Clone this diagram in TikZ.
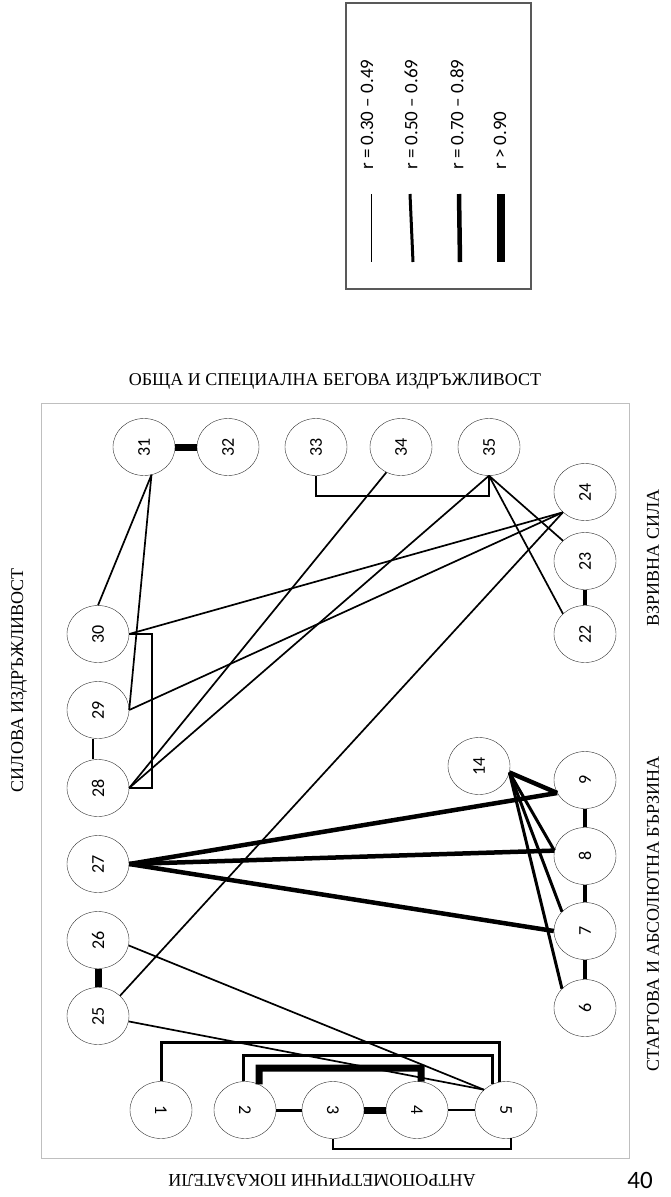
\documentclass[tikz,border=0pt]{standalone}
\usepackage{fontspec}
\setmainfont{Liberation Serif}
\newfontfamily\numfont{Carlito}
\usetikzlibrary{shapes.geometric}
\definecolor{frameGrey}{HTML}{BFBFBF}
\definecolor{legGrey}{HTML}{595959}

\begin{document}
\begin{tikzpicture}[x=1pt, y=-1pt,
      var/.style={draw=black!80, ellipse, fill=white, minimum width=62pt, minimum height=57pt,
        inner sep=0pt, font=\numfont\fontsize{18}{18}\selectfont},
      group/.style={font=\fontsize{18}{20}\selectfont, inner sep=0pt},
      legtext/.style={font=\numfont\fontsize{19}{20}\selectfont, inner sep=0pt, anchor=west, rotate=90},
      weak/.style={line width=1.7pt},
      moderate/.style={line width=3pt},
      strong/.style={line width=4.5pt},
      vstrong/.style={line width=7pt}]
    \useasboundingbox (0,0) rectangle (670,1197);

    % legend
    \draw[legGrey, line width=1.2pt] (346,3) rectangle (531,289);
    \draw[line width=1pt] (371,194) -- (371,262);
    \draw[line width=3pt] (410,194) -- (413,262);
    \draw[line width=4.5pt] (459,194) -- (460,262);
    \draw[line width=8pt] (501,194) -- (501,262);
    \node[legtext] at (367,170) {r = 0.30 – 0.49};
    \node[legtext] at (411,170) {r = 0.50 – 0.69};
    \node[legtext] at (457,170) {r = 0.70 – 0.89};
    \node[legtext] at (500,170) {r > 0.90};

    % frame and group names
    \draw[frameGrey, line width=1pt] (41,403) rectangle (629,1158);
    \node[group] (tEndur) at (335,381) {ОБЩА И СПЕЦИАЛНА БЕГОВА ИЗДРЪЖЛИВОСТ};
    \node[group, rotate=90] (tStrength) at (19,680) {СИЛОВА ИЗДРЪЖЛИВОСТ};
    \node[group, rotate=90] (tPower) at (653,558) {ВЗРИВНА СИЛА};
    \node[group, rotate=90] (tSpeed) at (653,914) {СТАРТОВА И АБСОЛЮТНА БЪРЗИНА};
    \node[group, rotate=180] (tAnthro) at (322,1180) {АНТРОПОМЕТРИЧНИ ПОКАЗАТЕЛИ};
    \node[font=\numfont\fontsize{25}{25}\selectfont, inner sep=0pt] (page) at (640,1180) {40};

    % variables
    \node[var] (n31) at (144,447) {\rotatebox{90}{31}};
    \node[var] (n32) at (228,447) {\rotatebox{90}{32}};
    \node[var] (n33) at (316,447) {\rotatebox{90}{33}};
    \node[var] (n34) at (401,447) {\rotatebox{90}{34}};
    \node[var] (n35) at (489,447) {\rotatebox{90}{35}};
    \node[var] (n24) at (585,492) {\rotatebox{90}{24}};
    \node[var] (n23) at (585,561) {\rotatebox{90}{23}};
    \node[var] (n22) at (585,634) {\rotatebox{90}{22}};
    \node[var] (n30) at (98,634) {\rotatebox{90}{30}};
    \node[var] (n29) at (98,710) {\rotatebox{90}{29}};
    \node[var] (n28) at (98,788) {\rotatebox{90}{28}};
    \node[var] (n27) at (98,864) {\rotatebox{90}{27}};
    \node[var] (n26) at (98,940) {\rotatebox{90}{26}};
    \node[var] (n25) at (98,1016) {\rotatebox{90}{25}};
    \node[var] (n14) at (479,766) {\rotatebox{90}{14}};
    \node[var] (n9) at (585,780) {\rotatebox{90}{9}};
    \node[var] (n8) at (585,856) {\rotatebox{90}{8}};
    \node[var] (n7) at (585,931) {\rotatebox{90}{7}};
    \node[var] (n6) at (585,1008) {\rotatebox{90}{6}};
    \node[var] (n1) at (161,1110) {\rotatebox{-90}{1}};
    \node[var] (n2) at (245,1110) {\rotatebox{-90}{2}};
    \node[var] (n3) at (333,1110) {\rotatebox{-90}{3}};
    \node[var] (n4) at (417,1110) {\rotatebox{-90}{4}};
    \node[var] (n5) at (506,1110) {\rotatebox{-90}{5}};

    % correlations
    \draw[vstrong] (n31) -- (n32);
    \draw[weak] (n31.-75) -- (n30.north);
    \draw[weak] (n31.-75) -- (n29.east);
    \draw[weak] (n30.east) -- (n24.south west);
    \draw[weak] (n29.east) -- (n24.south west);
    \draw[weak] (n28.east) -- (n34.-120);
    \draw[weak] (n28.east) -- (n35.south);
    \draw[weak] (n25.north east) -- (n24.south west);
    \draw[weak] (n33.south) -- ++(0,20) -| (n35.south);
    \draw[weak] (n35.south) -- (n23.north west);
    \draw[weak] (n35.south) -- (n22.north west);
    \draw[strong] (n22) -- (n23);
    \draw[weak] ([xshift=-5pt]n29.south) -- ([xshift=-5pt]n28.north);
    \draw[weak] (n30.east) -- ++(23,0) |- (n28.east);

    \draw[strong] (n27.east) -- (n9.205);
    \draw[strong] (n27.east) -- (n8.170);
    \draw[strong] (n27.east) -- (n7.west);
    \draw[strong] (n14.-12) -- (n9.205);
    \draw[moderate] (n14.-12) -- (n8.170);
    \draw[moderate] (n14.-12) -- (n7.140);
    \draw[moderate] (n14.-12) -- (n6.140);
    \draw[strong] (n6) -- (n7);
    \draw[strong] (n7) -- (n8);
    \draw[strong] (n8) -- (n9);

    \draw[vstrong] (n25) -- (n26);
    \draw[weak] (n26.-10) -- (n5.north west);
    \draw[weak] (n25.-10) -- (n5.north west);

    \draw[moderate] (n1.north) -- ++(0,-39) -| (n5.104);
    \draw[moderate] ([xshift=-2pt]n2.north) -- ++(0,-26) -| (n5.117);
    \draw[vstrong] (n2.61) |- (421,1068) -- (n4.82);
    \draw[weak] (n3.south) -- ++(0,10) -| (n5.-80);
    \draw[moderate] (n2) -- (n3);
    \draw[vstrong] (n3) -- (n4);
    \draw[line width=1.3pt] (n4) -- (n5);
\end{tikzpicture}
\end{document}
